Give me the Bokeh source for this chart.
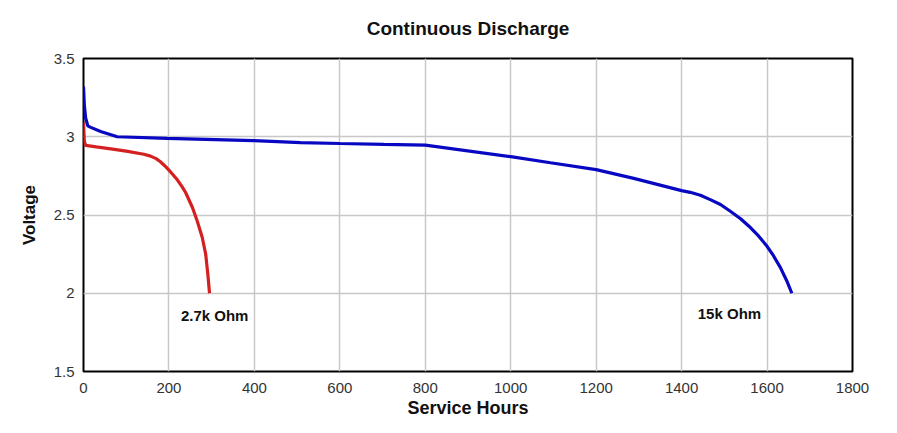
from bokeh.plotting import figure
from bokeh.models import Range1d, FixedTicker, Label
from bokeh.embed import file_html
from bokeh.resources import INLINE

# 2.7k Ohm load (hours, volts)
red_hours = [0, 2, 5, 30, 64, 100, 141, 157, 170, 180, 190, 200, 210, 220, 231, 239, 255, 266, 278, 286, 291, 295]
red_volts = [3.09, 2.97, 2.945, 2.935, 2.922, 2.908, 2.888, 2.876, 2.86, 2.84, 2.815, 2.787, 2.756, 2.723, 2.68, 2.644, 2.548, 2.463, 2.356, 2.25, 2.122, 2.0]

# 15k Ohm load (hours, volts)
blue_hours = [0, 2, 5, 10, 17, 40, 79, 196, 398, 508, 600, 703, 800, 1000, 1093, 1200, 1288, 1400, 1420, 1444,
              1467, 1491, 1514, 1538, 1561, 1580, 1600, 1615, 1631, 1646, 1658]
blue_volts = [3.32, 3.2, 3.12, 3.07, 3.06, 3.034, 3.0, 2.99, 2.975, 2.963, 2.957, 2.951, 2.947, 2.873, 2.834, 2.79, 2.734, 2.656, 2.645, 2.626,
              2.598, 2.567, 2.524, 2.476, 2.42, 2.366, 2.30, 2.24, 2.165, 2.08, 2.0]

x_ticks = [0, 200, 400, 600, 800, 1000, 1200, 1400, 1600, 1800]
y_ticks = [1.5, 2, 2.5, 3, 3.5]
y_tick_labels = {1.5: "1.5", 2: "2", 2.5: "2.5", 3: "3", 3.5: "3.5"}

title_text = "Continuous Discharge"
annotations = [("2.7k Ohm", 307, 1.86), ("15k Ohm", 1512, 1.87)]

p = figure(width=897, height=433, output_backend="svg", toolbar_location=None,
           x_range=Range1d(0, 1800), y_range=Range1d(1.5, 3.5),
           min_border_left=83, min_border_right=45, min_border_top=58, min_border_bottom=62)

p.title.text = title_text
p.title.align = "center"
p.title.vertical_align = "top"
p.title.text_font = "Liberation Sans"
p.title.text_font_size = "19px"
p.title.text_font_style = "bold"
p.title.text_color = "#111111"
p.title.standoff = 35

p.outline_line_color = "black"
p.outline_line_width = 2
p.background_fill_color = "white"
p.border_fill_color = "white"

p.xaxis.ticker = FixedTicker(ticks=x_ticks)
p.yaxis.ticker = FixedTicker(ticks=y_ticks)
p.yaxis.major_label_overrides = y_tick_labels
for ax in (p.xaxis[0], p.yaxis[0]):
    ax.axis_line_color = None
    ax.major_tick_line_color = None
    ax.minor_tick_line_color = None
    ax.major_label_text_font = "Liberation Sans"
    ax.major_label_text_font_size = "15px"
    ax.major_label_text_color = "#333333"
    ax.axis_label_text_font = "Liberation Sans"
    ax.axis_label_text_font_style = "bold"
    ax.axis_label_text_color = "#111111"
p.xaxis.axis_label_text_font_size = "18px"
p.yaxis.axis_label_text_font_size = "17px"
p.xaxis.axis_label = "Service Hours"
p.yaxis.axis_label = "Voltage"
p.xaxis.major_label_standoff = 5
p.yaxis.major_label_standoff = 3
p.xaxis.axis_label_standoff = 2
p.yaxis.axis_label_standoff = 12

p.xgrid.grid_line_color = "#c8c8c8"
p.ygrid.grid_line_color = "#c8c8c8"
p.xgrid.grid_line_width = 1.5
p.ygrid.grid_line_width = 1.5

p.line(red_hours, red_volts, line_color="#d42020", line_width=3.2)
p.line(blue_hours, blue_volts, line_color="#0808c2", line_width=3.2)

for txt, hx, vy in annotations:
    p.add_layout(Label(x=hx, y=vy, text=txt, text_align="center", text_baseline="middle",
                       text_font="Liberation Sans", text_font_size="15px",
                       text_font_style="bold", text_color="#111111"))

open("out.html", "w").write(file_html(p, INLINE))
